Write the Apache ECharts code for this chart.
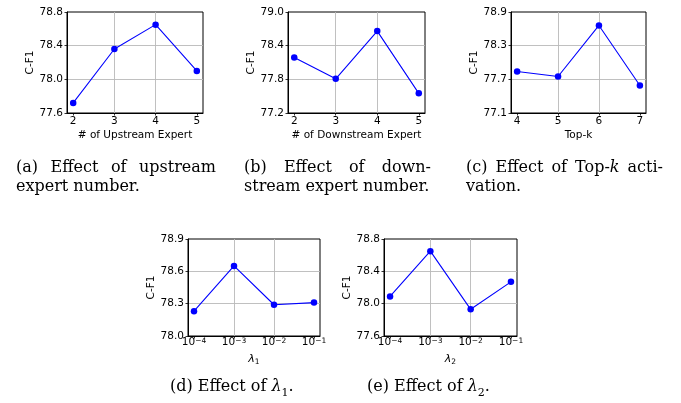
<!DOCTYPE html>
<html><head><meta charset="utf-8">
<script src="https://cdn.jsdelivr.net/npm/echarts@6/dist/echarts.min.js"></script>
<style>html,body{margin:0;padding:0;background:#fff}#c{width:681px;height:403px}</style>
</head><body><div id="c"></div>
<script>
// ---- data ----
const expertCounts = [2, 3, 4, 5];
const upstreamF1 = [77.72, 78.36, 78.65, 78.10];
const downstreamF1 = [78.19, 77.81, 78.66, 77.55];
const topK = [4, 5, 6, 7];
const topKF1 = [77.84, 77.75, 78.66, 77.59];
const lambdaExp = [-4, -3, -2, -1]; // 10^-4 ... 10^-1 (log scale)
const lambda1F1 = [78.23, 78.65, 78.29, 78.31];
const lambda2F1 = [78.09, 78.65, 77.93, 78.27];
const yTicksA = [77.6, 78.0, 78.4, 78.8];
const yTicksB = [77.2, 77.8, 78.4, 79.0];
const yTicksC = [77.1, 77.7, 78.3, 78.9];
const yTicksD = [78.0, 78.3, 78.6, 78.9];
const yTicksE = [77.6, 78.0, 78.4, 78.8];

// ---- layout ----
const panels = [
  {grid:{left:67, top:12, width:136, height:101}, xs:expertCounts, ys:upstreamF1, xr:[1.85,5.15], yt:yTicksA, xname:'# of Upstream Expert', yGap:31},
  {grid:{left:288, top:12, width:137, height:101}, xs:expertCounts, ys:downstreamF1, xr:[1.85,5.15], yt:yTicksB, xname:'# of Downstream Expert', yGap:30},
  {grid:{left:511, top:12, width:135, height:101}, xs:topK, ys:topKF1, xr:[3.85,7.15], yt:yTicksC, xname:'Top-k', yGap:31},
  {grid:{left:188, top:239, width:132, height:97}, xs:lambdaExp, ys:lambda1F1, xr:[-4.15,-0.85], yt:yTicksD, xname:'{i|λ}{s|1}', log:true, yGap:31},
  {grid:{left:384, top:239, width:133, height:97}, xs:lambdaExp, ys:lambda2F1, xr:[-4.15,-0.85], yt:yTicksE, xname:'{i|λ}{s|2}', log:true, yGap:30}
];

const SANS = '"DejaVu Sans"';
const FS = 10.5;
const gridColor = '#b9b9b9';

const grids = [], xAxes = [], yAxes = [], series = [];
panels.forEach((p, i) => {
  grids.push(Object.assign({show:true, borderColor:'#000', borderWidth:1, backgroundColor:'#fff', containLabel:false}, p.grid));
  xAxes.push({
    gridIndex:i, type:'value', min:p.xr[0], max:p.xr[1],
    axisLine:{show:true, lineStyle:{color:'#000', width:1}},
    axisTick:{show:true, customValues:p.xs, length:2.5, lineStyle:{color:'#000', width:0.8}},
    axisLabel:{customValues:p.xs, margin:p.log ? 1 : 3, color:'#000', fontFamily:SANS, fontSize:FS,
      formatter: p.log ? (v => '{b|10}{s|\u2212' + Math.abs(v) + '}') : (v => String(v)),
      rich: p.log ? {
        b:{fontFamily:SANS, fontSize:FS, lineHeight:11, verticalAlign:'bottom', color:'#000'},
        s:{fontFamily:SANS, fontSize:7.5, lineHeight:8, padding:[0,0,7,0], verticalAlign:'top', color:'#000'}
      } : undefined
    },
    splitLine:{show:true, showMinLine:false, showMaxLine:false, lineStyle:{color:gridColor, width:0.9}},
    name:p.xname, nameLocation:'middle', nameGap: p.log ? 13 : 17,
    nameTextStyle:{color:'#000', fontFamily:SANS, fontSize:FS,
      rich:{
        i:{fontFamily:SANS, fontStyle:'italic', fontSize:11, lineHeight:12, verticalAlign:'top', color:'#000'},
        s:{fontFamily:SANS, fontSize:7.5, lineHeight:8, padding:[5,0,0,0], verticalAlign:'bottom', color:'#000'}
      }}
  });
  yAxes.push({
    gridIndex:i, type:'value', min:p.yt[0], max:p.yt[p.yt.length-1],
    axisLine:{show:true, lineStyle:{color:'#000', width:1}},
    axisTick:{show:true, customValues:p.yt, length:2.5, lineStyle:{color:'#000', width:0.8}},
    axisLabel:{customValues:p.yt, margin:4, color:'#000', fontFamily:SANS, fontSize:FS, formatter:v => v.toFixed(1)},
    splitLine:{show:true, showMinLine:false, showMaxLine:false, lineStyle:{color:gridColor, width:0.9}},
    name:'C-F1', nameLocation:'middle', nameRotate:90, nameGap:p.yGap,
    nameTextStyle:{color:'#000', fontFamily:SANS, fontSize:FS}
  });
  series.push({
    type:'line', xAxisIndex:i, yAxisIndex:i,
    data:p.xs.map((x, k) => [x, p.ys[k]]),
    symbol:'circle', symbolSize:6.5, showSymbol:true,
    lineStyle:{color:'#0000ff', width:1.1}, itemStyle:{color:'#0000ff'},
    animation:false, z:5
  });
});

// ---- captions (justified first lines like the paper layout) ----
const CAPF = '"DejaVu Serif"', CFS = 16;
const cv = document.createElement('canvas').getContext('2d');
function mw(t, italic){ cv.font = (italic ? 'italic ' : '') + CFS + 'px ' + CAPF; return cv.measureText(t).width; }
const capRich = {
  it:{fontFamily:CAPF, fontStyle:'italic', fontSize:CFS, lineHeight:20, verticalAlign:'top', color:'#000'},
  sub:{fontFamily:CAPF, fontSize:11, lineHeight:11, padding:[4,0,0,0], verticalAlign:'bottom', color:'#000'},
  n:{fontFamily:CAPF, fontSize:CFS, lineHeight:20, verticalAlign:'top', color:'#000'}
};
const graphics = [];
function txt(x, y, text){
  graphics.push({type:'text', x:x, y:y, silent:true,
    style:{text:text, fontFamily:CAPF, fontSize:CFS, fill:'#000', align:'left', verticalAlign:'middle', rich:capRich}});
}
function justify(words, x0, x1, y){
  const ws = words.map(w => w.w);
  const sum = ws.reduce((a, b) => a + b, 0);
  const gap = (x1 - x0 - sum) / (words.length - 1);
  let x = x0;
  words.forEach((w, k) => { txt(x, y, w.t); x += ws[k] + gap; });
}
function W(t){ return {t:'{n|' + t + '}', w:mw(t)}; }
const L1 = 170, L2 = 189, L3 = 389;
justify([W('(a)'), W('Effect'), W('of'), W('upstream')], 16, 216, L1);
txt(16, L2, '{n|expert number.}');
justify([W('(b)'), W('Effect'), W('of'), W('down-')], 244, 431, L1);
txt(244, L2, '{n|stream expert number.}');
justify([W('(c)'), W('Effect'), W('of'), {t:'{n|Top-}{it|k}', w:mw('Top-') + mw('k', true)}, W('acti-')], 466, 663, L1);
txt(466, L2, '{n|vation.}');
txt(170, L3, '{n|(d) Effect of }{it|λ}{sub|1}{n|.}');
txt(367, L3, '{n|(e) Effect of }{it|λ}{sub|2}{n|.}');

const chart = echarts.init(document.getElementById('c'), null, {renderer:'canvas'});
chart.setOption({
  animation:false, backgroundColor:'#fff',
  grid:grids, xAxis:xAxes, yAxis:yAxes, series:series, graphic:graphics
});
</script></body></html>
